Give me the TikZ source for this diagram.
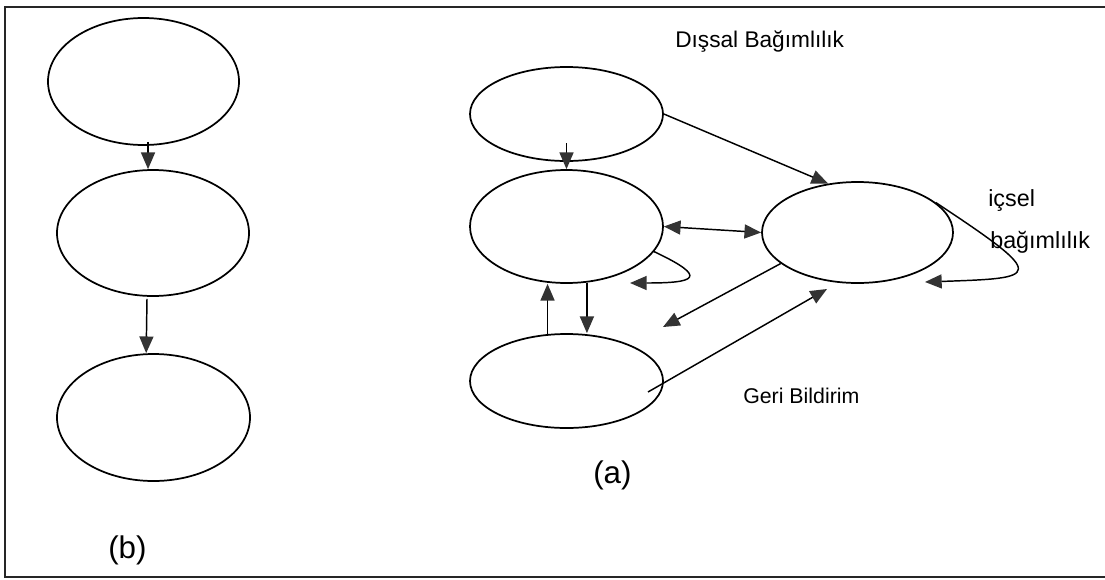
\documentclass[tikz,border=0pt]{standalone}
\usepackage{fontspec}
\setmainfont{Liberation Sans}
\usetikzlibrary{shapes.geometric,arrows.meta,calc}

\begin{document}
\begin{tikzpicture}[x=0.75pt,y=-0.75pt,
  blob/.style={ellipse,draw,line width=1.3pt,inner sep=0pt},
  tip/.tip={Triangle[length=12.5pt,width=10.5pt,color=black!80]},
  arr/.style={line width=1.1pt,-tip},
  both/.style={line width=1.1pt,tip-tip},
  lbl/.style={inner sep=0pt,anchor=base west},
  frame/.style={line width=1.6pt,black!85}]

\useasboundingbox (0,0) rectangle (1105,579);

% outer frame
\draw[frame] (1105,7) -- (5,7) -- (5,577) -- (1105,577);

% (b): simple chain
\node[blob,minimum width=143.25pt,minimum height=95.25pt] (b1) at (143.5,81.5) {};
\node[blob,minimum width=144pt,minimum height=94.5pt] (b2) at (153,233) {};
\node[blob,minimum width=144.75pt,minimum height=95.25pt] (b3) at (153.5,417.5) {};

\draw[arr] ([xshift=3.4pt,yshift=3pt]b1.south) coordinate (s1) -- (s1 |- b2.north);
\draw[arr] ([xshift=-4.5pt,yshift=-1.5pt]b2.south) -- ([xshift=-5.5pt]b3.north);

\node[lbl,font=\fontsize{23.5pt}{28pt}\selectfont] (lb) at (108,558) {(b)};

% (a): network with dependencies
\node[blob,minimum width=144.75pt,minimum height=70.5pt] (A) at (566.5,114) {};
\node[blob,minimum width=144.75pt,minimum height=84.75pt] (B) at (566.5,226.5) {};
\node[blob,minimum width=144.75pt,minimum height=70.5pt] (C) at (566.5,381) {};
\node[blob,minimum width=143.25pt,minimum height=75.75pt] (D) at (857.5,232.5) {};

\coordinate (bloop) at (630,283);
\coordinate (dloop) at (925,282);
\coordinate (dout)  at (663,327);
\coordinate (cfb)   at ($(C.center)+(81.5,11)$);
\coordinate (dfb)   at ($(D.center)+(-30.5,56.5)$);

\draw[arr] ([yshift=14pt]A.south) -- (B.north);
\draw[arr] (A.east) -- (D.121);
\draw[both] (B.east) -- (D.west);
\draw[arr] (B.-16) .. controls (710,278) and (695,283) .. (bloop);
\draw[arr] (B.-70) -- (B.-70 |- C.north);
\draw[arr] (C.112) -- (C.112 |- B.south);
\draw[arr] (D.202) -- (dout);
\draw[arr] (cfb) -- (dfb);
\draw[arr] (D.21) .. controls (1050,278) and (1040,278) .. (dloop);

\node[lbl,font=\fontsize{17pt}{20pt}\selectfont] (dis) at (675,47) {Dışsal Bağımlılık};
\node[lbl,font=\fontsize{17.5pt}{21pt}\selectfont] (ic1) at (988,206) {içsel};
\node[lbl,font=\fontsize{17.5pt}{21pt}\selectfont] (ic2) at (990,248) {bağımlılık};
\node[lbl,font=\fontsize{16pt}{19pt}\selectfont] (geri) at (743,403) {Geri Bildirim};
\node[lbl,font=\fontsize{23.5pt}{28pt}\selectfont] (la) at (593,483) {(a)};

\end{tikzpicture}
\end{document}
